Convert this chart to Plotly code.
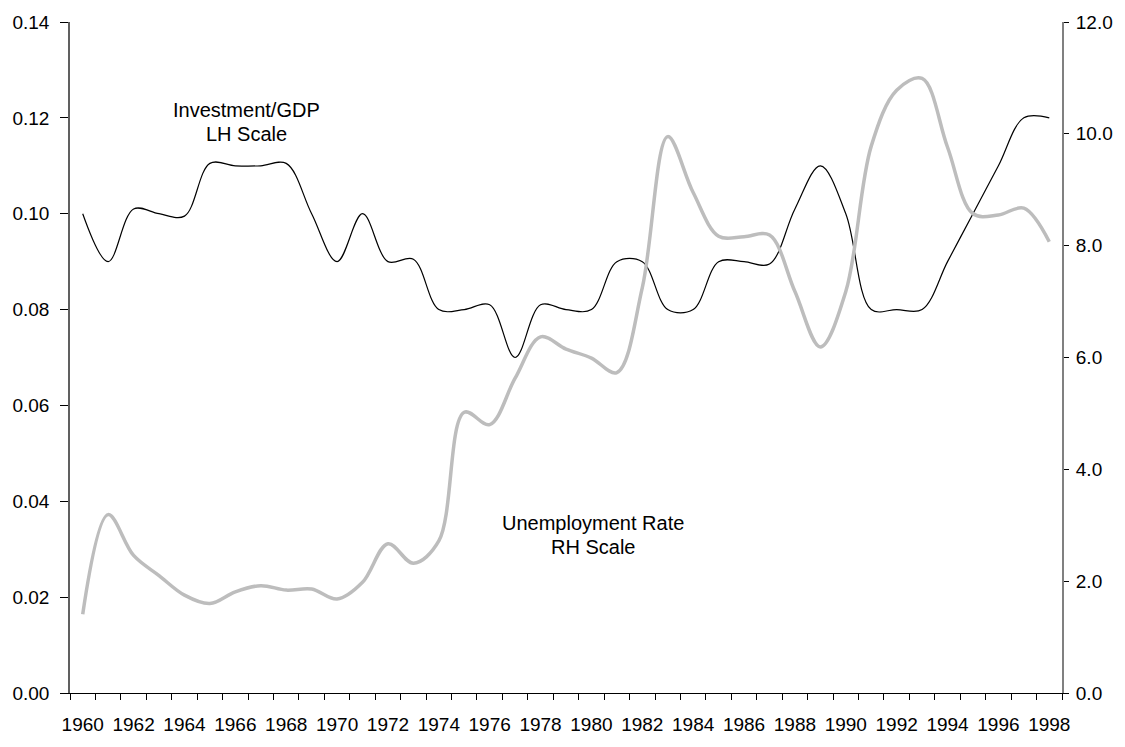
import plotly.graph_objects as go

years = list(range(1960, 1999))
investment_gdp = [0.100, 0.090, 0.101, 0.100, 0.0995, 0.1105, 0.110, 0.110, 0.1105, 0.100,
                  0.090, 0.100, 0.090, 0.0905, 0.080, 0.080, 0.081, 0.070, 0.081, 0.080,
                  0.080, 0.090, 0.090, 0.080, 0.080, 0.090, 0.090, 0.0895, 0.101, 0.110,
                  0.100, 0.080, 0.080, 0.080, 0.090, 0.100, 0.110, 0.120, 0.120]
unemployment = [1.41, 3.19, 2.46, 2.10, 1.75, 1.60, 1.81, 1.92, 1.84, 1.86,
                1.68, 1.98, 2.67, 2.32, 2.72, 5.02, 4.80, 5.63, 6.37, 6.15,
                5.99, 5.73, 7.25, 9.95, 8.95, 8.17, 8.16, 8.19, 7.18, 6.19,
                7.18, 9.78, 10.78, 10.99, 9.76, 8.57, 8.55, 8.67, 8.07]
label_years = [y for y in years if y % 2 == 0]
boundaries = [y - 0.5 for y in years] + [years[-1] + 0.5]
left_ticks = [0.0, 0.02, 0.04, 0.06, 0.08, 0.10, 0.12, 0.14]
right_ticks = [0, 2, 4, 6, 8, 10, 12]

FONT = "Liberation Sans, Arial, sans-serif"

fig = go.Figure()
fig.add_trace(go.Scatter(
    x=years, y=unemployment, yaxis="y2", mode="lines",
    line=dict(color="#bdbdbd", width=3.5, shape="spline", smoothing=1.0),
    name="Unemployment Rate", showlegend=False))
fig.add_trace(go.Scatter(
    x=years, y=investment_gdp, mode="lines",
    line=dict(color="black", width=1.2, shape="spline", smoothing=1.0),
    name="Investment/GDP", showlegend=False))

fig.update_layout(
    width=1125, height=747,
    margin=dict(l=66, r=63, t=16, b=46),
    paper_bgcolor="white", plot_bgcolor="white",
    font=dict(family=FONT, size=19, color="black"),
    xaxis=dict(
        range=[years[0] - 0.5, years[-1] + 0.5],
        tickmode="array", tickvals=label_years, ticktext=[str(y) for y in label_years],
        ticks="", showgrid=False, zeroline=False,
        showline=True, linecolor="black", linewidth=1.2,
        ticklabelstandoff=14,
        minor=dict(tickmode="array", tickvals=boundaries, ticks="outside",
                   ticklen=6, tickcolor="black", tickwidth=1, showgrid=False),
    ),
    yaxis=dict(
        range=[0, 0.14], tickmode="array", tickvals=left_ticks,
        tickformat=".2f", ticks="outside", ticklen=8, tickcolor="black", tickwidth=1,
        showgrid=False, zeroline=False,
        showline=True, linecolor="#606060", linewidth=1.5,
        ticklabelstandoff=7,
    ),
    yaxis2=dict(
        range=[0, 12], overlaying="y", side="right", tickmode="array", tickvals=right_ticks,
        tickformat=".1f", ticks="outside", ticklen=5, tickcolor="black", tickwidth=1,
        showgrid=False, zeroline=False,
        showline=True, linecolor="#808080", linewidth=2,
        ticklabelstandoff=3,
    ),
    annotations=[
        dict(xref="paper", yref="paper", x=0.1778, y=(701 - 106) / 685, text="Investment/GDP",
             showarrow=False, xanchor="center", yanchor="middle", font=dict(size=20)),
        dict(xref="paper", yref="paper", x=0.1778, y=(701 - 130) / 685, text="LH Scale",
             showarrow=False, xanchor="center", yanchor="middle", font=dict(size=20)),
        dict(xref="paper", yref="paper", x=0.5277, y=(701 - 527.5) / 685, text="Unemployment Rate",
             showarrow=False, xanchor="center", yanchor="middle", font=dict(size=20)),
        dict(xref="paper", yref="paper", x=0.5277, y=(701 - 551.5) / 685, text="RH Scale",
             showarrow=False, xanchor="center", yanchor="middle", font=dict(size=20)),
    ],
)

fig.write_html("out.html")
